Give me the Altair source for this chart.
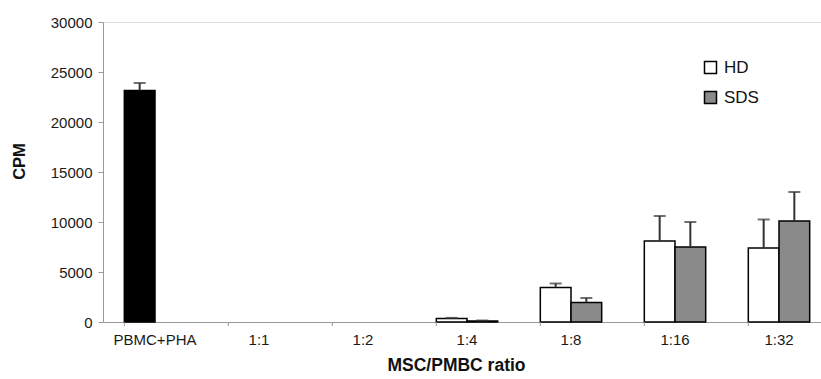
import altair as alt
import pandas as pd

categories = ["PBMC+PHA", "1:1", "1:2", "1:4", "1:8", "1:16", "1:32"]
series_names = ["HD", "SDS"]

pbmc_mean = 23150
pbmc_err = 750

ratio_cats = ["1:4", "1:8", "1:16", "1:32"]
hd_mean = [350, 3450, 8100, 7400]
hd_err = [60, 400, 2500, 2850]
sds_mean = [100, 1950, 7500, 10100]
sds_err = [50, 450, 2500, 2900]

rows = [{"cat": "PBMC+PHA", "series": "HD", "fillkey": "PBMC+PHA",
         "mean": pbmc_mean, "upper": pbmc_mean + pbmc_err}]
for c, m, e in zip(ratio_cats, hd_mean, hd_err):
    rows.append({"cat": c, "series": "HD", "fillkey": "HD", "mean": m, "upper": m + e})
for c, m, e in zip(ratio_cats, sds_mean, sds_err):
    rows.append({"cat": c, "series": "SDS", "fillkey": "SDS", "mean": m, "upper": m + e})
df = pd.DataFrame(rows)
cat_df = pd.DataFrame({"cat": categories})

FONT = "Liberation Sans"

xscale = alt.Scale(domain=categories, range=[0, 728], paddingInner=0.41, paddingOuter=0.205)
xoff = alt.XOffset("series:N", scale=alt.Scale(domain=series_names))
yscale = alt.Scale(domain=[0, 30000])

x_enc = alt.X("cat:N", scale=xscale, sort=categories,
              axis=alt.Axis(title="MSC/PMBC ratio", labelAngle=0, ticks=False,
                            labelFont=FONT, labelFontSize=15, labelColor="#1a1a1a",
                            labelPadding=10, domainColor="#999", domainWidth=1,
                            titleFont=FONT, titleFontSize=17.5, titleFontWeight="bold",
                            titleColor="#111", titleX=353, titleY=43,
                            titleBaseline="middle", titleAnchor="middle"))
y_enc = alt.Y("mean:Q", scale=yscale,
              axis=alt.Axis(title="CPM", values=[0, 5000, 10000, 15000, 20000, 25000, 30000],
                            format="d", grid=False, tickSize=5, tickColor="#999",
                            domainColor="#999", labelFont=FONT, labelFontSize=15,
                            labelColor="#1a1a1a", labelPadding=6,
                            titleFont=FONT, titleFontSize=16.5, titleFontWeight="bold",
                            titleColor="#111", titleX=-84, titleY=139,
                            titleBaseline="middle", titleAngle=-90))

bars = alt.Chart(df).mark_bar(stroke="black", strokeWidth=1.5).encode(
    x=x_enc,
    xOffset=xoff,
    y=y_enc,
    fill=alt.Fill("fillkey:N",
                  scale=alt.Scale(domain=["HD", "SDS", "PBMC+PHA"],
                                  range=["white", "#8a8a8a", "black"]),
                  legend=alt.Legend(orient="none", legendX=599, legendY=37, title=None,
                                    values=["HD", "SDS"], symbolType="square",
                                    symbolSize=144, symbolStrokeColor="black",
                                    symbolStrokeWidth=1.5, labelFont=FONT,
                                    labelFontSize=17, labelColor="#111",
                                    rowPadding=11, labelOffset=5)),
)

err = alt.Chart(df).mark_rule(color="#333", strokeWidth=2).encode(
    x=alt.X("cat:N", scale=xscale, sort=categories),
    xOffset=xoff,
    y=alt.Y("mean:Q", scale=yscale),
    y2="upper:Q",
)

caps = alt.Chart(df).mark_tick(color="#333", thickness=2, size=12).encode(
    x=alt.X("cat:N", scale=xscale, sort=categories),
    xOffset=xoff,
    y=alt.Y("upper:Q", scale=yscale),
)

xticks = alt.Chart(cat_df).mark_rule(color="#999", strokeWidth=1).encode(
    x=alt.X("cat:N", scale=xscale, sort=categories, bandPosition=0),
    y=alt.value(300),
    y2=alt.value(304),
)

chart = alt.layer(bars, err, caps, xticks).properties(
    width=718, height=300,
    autosize=alt.AutoSizeParams(type="none"),
    padding={"left": 103, "top": 22, "right": 0, "bottom": 57},
).configure_view(stroke=None).configure(background="white")

chart.save("out.html", embed_options={"renderer": "svg", "actions": False})
